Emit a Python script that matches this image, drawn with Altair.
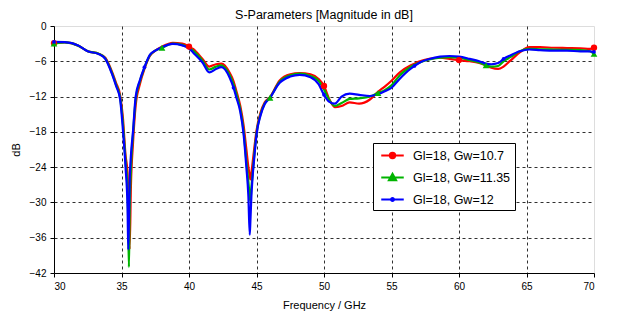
import altair as alt
import pandas as pd

# ---- data ----
freq = [30.0, 30.8, 31.8, 32.5, 33.3, 33.8, 34.3, 34.6, 34.9, 35.1, 35.3, 35.45, 35.5, 35.55, 35.6, 35.7,
        35.85, 36.05, 36.35, 36.7, 37.1, 37.5, 38.0, 38.8, 39.5, 40.0, 40.3, 41.0, 41.5, 42.0, 42.4, 43.0,
        43.3, 43.5, 43.8, 44.05, 44.25, 44.4, 44.5, 44.55, 44.62, 44.7, 44.85, 45.0, 45.3, 45.6, 46.0,
        46.7, 47.5, 48.2, 49.0, 49.6, 50.0, 50.4, 50.8, 51.3, 51.9, 52.6, 53.4, 54.0, 54.5, 55.0, 55.6,
        56.4, 56.7, 57.1, 57.8, 58.6, 59.3, 60.0, 60.8, 61.5, 62.0, 62.4, 62.9, 63.3, 63.8, 64.5, 65.2,
        66.0, 67.0, 68.0, 69.0, 69.7, 70.0]

gw_10_7 = [-2.9, -2.8, -3.35, -4.3, -4.7, -5.4, -7.8, -9.7, -11.8, -15.5, -22, -25, -29, -33, -38, -27,
           -20, -13.5, -10, -7.3, -5.1, -4.2, -3.5, -2.85, -3.0, -3.5, -3.9, -5.6, -6.9, -6.5, -6.4, -7.9,
           -9.4, -11.0, -13.6, -17, -21, -24, -25.5, -26.1, -25, -23.5, -20.5, -17.8, -14.7, -13.0, -12.1,
           -9.3, -8.2, -8.0, -8.2, -9.0, -10.2, -12.5, -13.8, -13.6, -13.0, -13.2, -12.5, -11.2, -10.3, -9.3, -7.9,
           -6.7, -6.4, -6.0, -5.6, -5.4, -5.6, -5.8, -6.0, -6.3, -6.7, -7.1, -7.3, -6.9, -5.9, -4.5, -3.6,
           -3.6, -3.7, -3.75, -3.8, -3.9, -3.7]

gw_11_35 = [-3.0, -2.8, -3.35, -4.3, -4.7, -5.5, -8.0, -10.0, -12.2, -16.5, -23, -28, -34, -41, -32, -24,
            -18.5, -12.5, -9.5, -7.1, -5.0, -4.2, -3.7, -3.0, -3.2, -3.7, -4.2, -5.9, -7.4, -6.9, -6.7, -8.3,
            -9.9, -11.5, -14.2, -18, -23, -26.5, -29, -29.8, -27.5, -25.5, -21.5, -18.3, -15.0, -13.2, -12.2,
            -9.5, -8.4, -8.1, -8.5, -9.3, -10.8, -12.6, -13.6, -13.1, -12.4, -12.3, -12.0, -11.4, -10.9, -10.1, -8.4,
            -7.0, -6.6, -6.2, -5.7, -5.4, -5.3, -5.4, -5.8, -6.2, -6.7, -6.9, -6.8, -6.0, -5.3, -4.3, -3.9,
            -3.95, -4.0, -4.05, -4.1, -4.3, -4.75]

gw_12 = [-2.7, -2.75, -3.3, -4.3, -4.75, -5.6, -8.2, -10.2, -12.5, -17.5, -24, -31, -38, -33, -27, -22,
         -18, -12, -9.3, -7.0, -4.9, -4.2, -3.6, -3.05, -3.3, -3.8, -4.5, -6.2, -7.9, -7.3, -7.0, -8.7,
         -10.5, -12.1, -14.6, -18.5, -24, -29, -35.5, -33, -29, -26, -22, -18.5, -15.2, -13.3, -12.2,
         -9.7, -8.6, -8.3, -8.7, -9.9, -11.7, -12.9, -13.2, -12.0, -11.5, -11.7, -11.9, -11.6, -11.1, -10.5, -9.0,
         -7.3, -6.8, -6.2, -5.6, -5.2, -5.1, -5.2, -5.6, -6.0, -6.4, -6.5, -6.3, -5.6, -5.0, -4.3, -4.0,
         -4.1, -4.2, -4.2, -4.3, -4.3, -4.4]

names = ["Gl=18, Gw=10.7", "Gl=18, Gw=11.35", "Gl=18, Gw=12"]
colors = ["#ff0000", "#00b400", "#0000ff"]
values = [gw_10_7, gw_11_35, gw_12]

marker_freqs = [
    [30.0, 40.0, 50.0, 60.0, 70.0],
    [30.0, 38.0, 46.0, 54.0, 62.0, 70.0],
    [30.0, 36.7, 43.3, 50.0, 56.7, 63.3, 70.0],
]
marker_shapes = ["circle", "triangle-up", "circle"]
marker_sizes = [40, 45, 14]

x_ticks = [30, 35, 40, 45, 50, 55, 60, 65, 70]
y_ticks = [0, -6, -12, -18, -24, -30, -36, -42]

# legend symbols: a line segment with the series marker on it
legend_paths = [
    "M-1.5,0L1.5,0M-0.36,0A0.36,0.36,0,1,1,0.36,0A0.36,0.36,0,1,1,-0.36,0Z",
    "M-1.5,0L1.5,0M0,-0.5L0.48,0.35L-0.48,0.35Z",
    "M-1.5,0L1.5,0M-0.2,0A0.2,0.2,0,1,1,0.2,0A0.2,0.2,0,1,1,-0.2,0Z",
]

rows = []
for name, vals, mf in zip(names, values, marker_freqs):
    for f, v in zip(freq, vals):
        rows.append({"f": f, "v": v, "series": name, "marker": f in mf})
df = pd.DataFrame(rows)

FONT = "Liberation Sans"

grid_op = {"condition": {"test": "datum.value == 0 || datum.value == -42", "value": 0}, "value": 1}
grid_opx = {"condition": {"test": "datum.value == 30 || datum.value == 70", "value": 0}, "value": 1}

x_enc = alt.X("f:Q", scale=alt.Scale(domain=[30, 70], nice=False, zero=False),
              axis=alt.Axis(values=x_ticks, title="Frequency / GHz", grid=True, gridDash=[3, 3],
                            gridColor="#303030", gridOpacity=grid_opx, tickSize=4, labelPadding=4,
                            titlePadding=8, domainColor="black", tickColor="black", format="d",
                            titleFontWeight="normal", titleFont=FONT, labelFont=FONT))
y_enc = alt.Y("v:Q", scale=alt.Scale(domain=[-42, 0], nice=False, zero=False),
              axis=alt.Axis(values=y_ticks, title="dB", grid=True, gridDash=[3, 3],
                            gridColor="#303030", gridOpacity=grid_op, tickSize=4, labelPadding=4,
                            titlePadding=8, domainColor="black", tickColor="black", format="d",
                            titleFontWeight="normal", titleFont=FONT, labelFont=FONT))

base = alt.Chart(df)
layers = []
for i, name in enumerate(names):
    sub = base.transform_filter(alt.datum.series == name)
    layers.append(sub.mark_line(color=colors[i], strokeWidth=2.2, interpolate="monotone")
                  .encode(x=x_enc, y=y_enc, order="f:Q"))
for i, name in enumerate(names):
    sub = base.transform_filter((alt.datum.series == name) & (alt.datum.marker == True))
    layers.append(sub.mark_point(color=colors[i], filled=True, opacity=1, shape=marker_shapes[i],
                                 size=marker_sizes[i]).encode(x=x_enc, y=y_enc))

legend = alt.Legend(orient="none", legendX=319, legendY=117, title=None,
                    strokeColor="black", fillColor="white", padding=4,
                    symbolSize=225, symbolStrokeWidth=2, symbolOffset=7,
                    labelFont=FONT, labelFontSize=12.5, labelColor="black", labelOffset=12,
                    rowPadding=6, labelLimit=300)
legend_layer = base.transform_filter("false").mark_point(filled=True, opacity=1, strokeWidth=2).encode(
    x=x_enc, y=y_enc,
    fill=alt.Fill("series:N", scale=alt.Scale(domain=names, range=colors), legend=legend),
    stroke=alt.Stroke("series:N", scale=alt.Scale(domain=names, range=colors), legend=legend),
    shape=alt.Shape("series:N", scale=alt.Scale(domain=names, range=legend_paths), legend=legend),
)
layers.append(legend_layer)

chart = alt.layer(*layers).properties(
    width=540, height=247,
    title=alt.Title("S-Parameters [Magnitude in dB]", font=FONT, fontSize=12.5, fontWeight="normal",
                    color="black", offset=0, anchor="middle"),
    autosize=alt.AutoSizeParams(type="none"),
    padding={"left": 46, "top": 18, "right": 15, "bottom": 43},
).configure_view(stroke="#909090", strokeWidth=1.5).configure_axis(
    labelFontSize=12.5, labelColor="black", titleFontSize=12.5, titleColor="black"
).configure(background="white")

chart.save("out.html", embed_options={"renderer": "svg", "actions": False})
